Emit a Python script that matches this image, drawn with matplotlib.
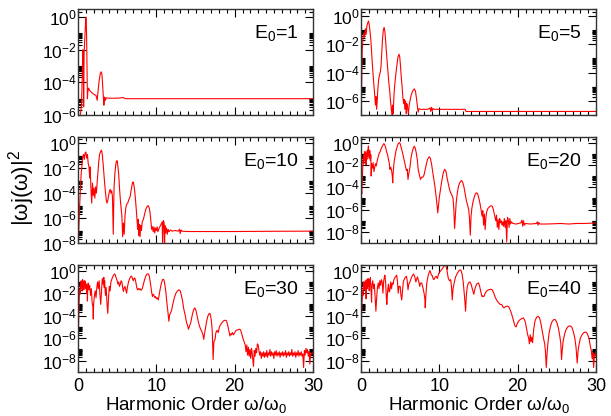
import matplotlib
matplotlib.use('Agg')
import matplotlib.pyplot as plt
import numpy as np
from matplotlib.ticker import FixedLocator, MultipleLocator, NullFormatter, FuncFormatter

plt.rcParams['font.family'] = ['Liberation Sans', 'DejaVu Sans']
plt.rcParams['mathtext.fontset'] = 'custom'
plt.rcParams['mathtext.rm'] = 'Liberation Sans'
plt.rcParams['mathtext.it'] = 'Liberation Sans:italic'
plt.rcParams['mathtext.bf'] = 'Liberation Sans:bold'

# spectra: harmonic order and log10 of |w j(w)|^2

e1_x = [0.0, 0.2, 0.35, 0.45, 0.55, 0.62, 0.68, 0.72, 0.78, 0.85, 0.92, 1.0, 1.05, 1.1, 1.15,
        1.2, 1.25, 1.35, 1.5, 1.8, 2.1, 2.3, 2.45, 2.55, 2.7, 2.85, 2.95, 3.05, 3.15, 3.25,
        3.3, 3.4, 3.5, 3.6, 4.0, 5.0, 5.8, 6.0, 30.0]
e1_log = [-6.5, -6.3, -5.8, -5.4, -3.5, -2.0, -2.1, -5.5, -2.2, -1.5, -0.8, 0.0, -0.3, -1.2, -3.0,
          -5.0, -4.6, -4.35, -4.5, -4.65, -4.75, -4.8, -5.1, -4.6, -3.9, -3.45, -3.35, -3.5, -4.2, -5.0,
          -5.4, -4.9, -5.1, -4.95, -4.97, -4.97, -4.93, -5.0, -5.0]

e5_x = [0.0, 0.08, 0.15, 0.25, 0.35, 0.45, 0.55, 0.65, 0.75, 0.85, 0.95, 1.05, 1.15, 1.25, 1.35,
        1.45, 1.55, 1.65, 1.75, 1.85, 1.92, 2.0, 2.08, 2.15, 2.25, 2.35, 2.45, 2.55, 2.65, 2.75,
        2.85, 2.95, 3.05, 3.15, 3.25, 3.35, 3.45, 3.55, 3.65, 3.75, 3.85, 3.95, 4.02, 4.1, 4.2,
        4.3, 4.45, 4.6, 4.72, 4.85, 4.95, 5.05, 5.15, 5.25, 5.35, 5.45, 5.52, 5.6, 5.7, 5.78,
        5.85, 5.95, 6.05, 6.15, 6.25, 6.4, 6.6, 6.8, 6.95, 7.1, 7.2, 7.3, 7.4, 7.6, 8.5,
        8.8, 8.9, 9.0, 9.1, 9.2, 9.4, 13.3, 13.4, 30.0]
e5_log = [-7.2, -5.0, -2.5, -1.6, -1.2, -1.5, -0.9, -1.3, -0.7, -0.5, -0.35, -0.6, -1.1, -1.6, -2.5,
          -3.4, -4.2, -4.9, -5.6, -6.3, -5.7, -6.6, -5.9, -5.2, -4.5, -4.2, -4.0, -3.6, -2.6, -1.6,
          -1.0, -0.8, -1.1, -1.8, -2.6, -3.3, -4.0, -4.7, -5.2, -5.9, -6.5, -7.0, -6.3, -6.9, -5.7,
          -4.9, -4.1, -3.4, -2.9, -2.7, -2.9, -3.6, -4.4, -5.0, -5.8, -6.2, -5.9, -6.6, -6.0, -6.9,
          -6.2, -6.5, -6.9, -6.3, -6.0, -5.6, -5.3, -5.15, -5.3, -5.9, -6.4, -6.8, -6.55, -6.6, -6.6,
          -6.5, -6.75, -6.45, -6.7, -6.55, -6.6, -6.6, -6.75, -6.75]

e10_x = [0.0, 0.1, 0.2, 0.3, 0.4, 0.5, 0.6, 0.7, 0.8, 0.9, 1.0, 1.1, 1.2, 1.3, 1.4,
         1.5, 1.55, 1.65, 1.75, 1.85, 1.95, 2.05, 2.15, 2.25, 2.35, 2.45, 2.55, 2.65, 2.75, 2.9,
         3.0, 3.1, 3.2, 3.3, 3.4, 3.5, 3.6, 3.7, 3.8, 3.9, 4.0, 4.1, 4.2, 4.3, 4.4,
         4.5, 4.6, 4.7, 4.8, 4.9, 5.0, 5.1, 5.2, 5.3, 5.4, 5.5, 5.6, 5.7, 5.8, 5.9,
         6.0, 6.1, 6.2, 6.35, 6.5, 6.65, 6.8, 6.95, 7.05, 7.15, 7.25, 7.35, 7.45, 7.55, 7.62,
         7.7, 7.78, 7.85, 7.92, 8.0, 8.1, 8.2, 8.35, 8.5, 8.65, 8.8, 8.95, 9.1, 9.2, 9.3,
         9.4, 9.5, 9.6, 9.7, 9.8, 9.9, 10.0, 10.1, 10.2, 10.3, 10.45, 10.6, 10.75, 10.8, 10.9,
         11.0, 11.05, 11.1, 11.2, 11.3, 11.4, 11.5, 11.6, 11.8, 12.0, 12.4, 12.8, 12.95, 13.05, 13.15,
         13.25, 14.0, 20.0, 25.0, 30.0]
e10_log = [-8.5, -7.0, -5.2, -3.8, -2.5, -1.8, -1.1, -0.9, -1.3, -0.8, -0.7, -1.2, -0.9, -1.6, -1.9,
           -2.8, -1.9, -3.6, -4.8, -3.2, -4.2, -3.6, -4.4, -3.5, -4.0, -3.1, -2.3, -1.5, -0.9, -0.65,
           -0.55, -0.9, -1.6, -2.4, -3.2, -3.9, -4.5, -4.8, -4.6, -4.2, -3.9, -3.7, -4.0, -3.8, -4.3,
           -7.3, -3.6, -2.5, -1.8, -1.45, -1.4, -1.9, -2.5, -3.6, -4.5, -5.2, -5.8, -7.5, -6.4, -7.3,
           -5.8, -5.2, -4.9, -4.8, -4.5, -4.3, -3.7, -3.2, -3.1, -3.4, -3.9, -4.6, -5.4, -6.3, -6.9,
           -6.1, -7.4, -6.5, -7.5, -6.6, -7.0, -6.3, -6.1, -5.7, -5.3, -5.1, -5.0, -5.2, -5.6, -6.2,
           -6.9, -6.7, -7.1, -6.7, -7.2, -6.8, -7.0, -6.7, -7.1, -6.9, -6.7, -6.5, -6.3, -8.1, -6.2,
           -6.4, -8.3, -6.6, -7.2, -6.8, -7.3, -6.9, -7.1, -6.95, -7.05, -7.0, -7.05, -6.9, -7.25, -6.95,
           -7.05, -7.08, -7.08, -7.06, -7.05]

e20_x = [0.0, 0.05, 0.1, 0.15, 0.2, 0.25, 0.3, 0.35, 0.4, 0.45, 0.5, 0.55, 0.6, 0.65, 0.7,
         0.75, 0.8, 0.85, 0.9, 0.95, 1.0, 1.05, 1.1, 1.15, 1.2, 1.25, 1.3, 1.35, 1.45, 1.55,
         1.65, 1.75, 1.85, 1.95, 2.05, 2.15, 2.3, 2.45, 2.6, 2.75, 2.9, 3.0, 3.1, 3.2, 3.3,
         3.4, 3.5, 3.6, 3.7, 3.8, 3.9, 4.0, 4.05, 4.1, 4.2, 4.3, 4.45, 4.6, 4.75, 4.9,
         5.0, 5.15, 5.3, 5.45, 5.55, 5.7, 5.8, 5.9, 6.0, 6.1, 6.25, 6.4, 6.55, 6.7, 6.8,
         6.9, 7.05, 7.2, 7.3, 7.45, 7.6, 7.75, 7.9, 8.05, 8.2, 8.35, 8.5, 8.7, 8.85, 9.0,
         9.15, 9.3, 9.45, 9.55, 9.65, 9.75, 9.8, 9.9, 10.0, 10.15, 10.3, 10.45, 10.6, 10.7, 10.85,
         11.0, 11.15, 11.3, 11.45, 11.6, 11.75, 11.85, 11.95, 12.05, 12.15, 12.3, 12.45, 12.6, 12.75, 12.85,
         13.0, 13.15, 13.3, 13.45, 13.6, 13.75, 13.85, 13.95, 14.05, 14.15, 14.3, 14.45, 14.6, 14.75, 14.9,
         15.05, 15.2, 15.35, 15.45, 15.55, 15.65, 15.75, 15.85, 15.95, 16.05, 16.2, 16.4, 16.6, 16.75, 16.9,
         17.05, 17.2, 17.3, 17.4, 17.5, 17.6, 17.7, 17.8, 17.9, 18.0, 18.1, 18.2, 18.3, 18.4, 18.5,
         18.6, 18.7, 18.8, 18.9, 19.0, 19.1, 19.2, 19.4, 19.8, 20.4, 20.55, 20.65, 20.75, 20.85, 21.0,
         21.6, 22.4, 22.5, 22.6, 22.7, 22.8, 23.5, 24.5, 25.5, 26.5, 27.5, 28.5, 29.5, 30.0]
e20_log = [-5.1, -4.3, -4.6, -3.5, -2.7, -1.8, -1.3, -1.9, -1.0, -1.6, -0.8, -1.4, -0.9, -2.0, -1.1,
           -1.5, -0.7, -1.2, -0.5, -0.3, -0.9, -1.4, -0.7, -0.8, -1.6, -1.1, -3.0, -1.9, -2.3, -1.8,
           -2.6, -2.2, -1.9, -2.1, -1.7, -1.4, -1.0, -0.8, -0.5, -0.3, -0.1, -0.15, -0.35, -0.6, -0.9,
           -1.1, -1.5, -1.8, -2.4, -2.2, -2.5, -3.0, -3.6, -2.8, -1.9, -1.4, -0.8, -0.4, -0.1, 0.0,
           -0.1, -0.5, -0.9, -1.4, -1.7, -2.2, -2.5, -2.4, -3.3, -2.8, -2.2, -1.3, -0.8, -0.45, -0.33,
           -0.45, -0.9, -1.6, -2.4, -2.9, -3.3, -3.1, -3.1, -2.9, -2.4, -1.9, -1.5, -1.27, -1.4, -1.9,
           -2.6, -3.3, -4.0, -4.6, -5.2, -5.9, -6.3, -5.6, -4.9, -4.2, -3.5, -2.9, -2.5, -2.4, -2.6,
           -3.2, -3.7, -4.2, -4.5, -4.7, -5.0, -6.0, -7.7, -6.5, -5.4, -4.5, -3.9, -3.6, -3.45, -3.4,
           -3.6, -4.0, -4.6, -5.2, -5.6, -6.0, -6.8, -8.3, -6.6, -5.9, -5.3, -4.9, -4.6, -4.5, -4.6,
           -5.0, -5.5, -6.1, -6.6, -6.1, -7.4, -6.4, -7.8, -6.7, -6.2, -5.9, -5.75, -5.66, -5.7, -6.0,
           -6.5, -7.0, -6.5, -7.6, -6.9, -7.8, -6.8, -7.2, -7.0, -7.4, -7.1, -7.5, -6.8, -7.6, -7.0,
           -8.9, -6.7, -6.9, -7.6, -6.8, -7.3, -7.1, -7.25, -7.3, -7.2, -6.95, -7.5, -7.0, -7.4, -7.25,
           -7.3, -7.25, -7.1, -7.4, -7.15, -7.3, -7.3, -7.28, -7.25, -7.3, -7.25, -7.25, -7.22, -7.2]

e30_x = [0.0, 0.05, 0.1, 0.15, 0.2, 0.25, 0.3, 0.35, 0.4, 0.45, 0.5, 0.55, 0.6, 0.65, 0.7,
         0.75, 0.8, 0.85, 0.9, 0.95, 1.0, 1.05, 1.1, 1.15, 1.2, 1.25, 1.3, 1.4, 1.5, 1.6,
         1.7, 1.8, 1.9, 1.95, 2.0, 2.1, 2.2, 2.3, 2.4, 2.5, 2.6, 2.7, 2.8, 2.9, 3.0,
         3.1, 3.2, 3.3, 3.35, 3.4, 3.5, 3.6, 3.7, 3.8, 3.9, 4.0, 4.1, 4.2, 4.35, 4.5,
         4.65, 4.75, 4.85, 5.0, 5.1, 5.2, 5.3, 5.4, 5.5, 5.6, 5.7, 5.8, 5.9, 6.0, 6.1,
         6.2, 6.3, 6.45, 6.6, 6.75, 6.85, 6.95, 7.05, 7.15, 7.25, 7.35, 7.5, 7.6, 7.7, 7.8,
         7.9, 8.05, 8.2, 8.35, 8.5, 8.65, 8.8, 9.0, 9.1, 9.2, 9.3, 9.4, 9.5, 9.6, 9.7,
         9.8, 9.9, 10.0, 10.1, 10.25, 10.35, 10.5, 10.65, 10.8, 10.9, 11.0, 11.1, 11.2, 11.3, 11.4,
         11.5, 11.6, 11.7, 11.8, 11.95, 12.1, 12.3, 12.5, 12.7, 12.9, 13.05, 13.2, 13.35, 13.5, 13.7,
         13.85, 14.0, 14.1, 14.25, 14.4, 14.6, 14.75, 14.9, 15.05, 15.2, 15.35, 15.5, 15.65, 15.8, 15.95,
         16.05, 16.15, 16.3, 16.45, 16.6, 16.75, 16.85, 16.95, 17.05, 17.15, 17.25, 17.35, 17.5, 17.6, 17.75,
         17.9, 18.05, 18.2, 18.4, 18.6, 18.8, 18.95, 19.1, 19.25, 19.4, 19.5, 19.6, 19.7, 19.85, 20.0,
         20.2, 20.4, 20.6, 20.75, 20.9, 21.05, 21.2, 21.35, 21.45, 21.55, 21.65, 21.75, 21.85, 21.95, 22.05,
         22.15, 22.25, 22.4, 22.5, 22.6, 22.7, 22.8, 22.9, 23.0, 23.1, 23.2, 23.3, 23.4, 23.5, 23.6,
         23.7, 23.8, 23.9, 24.0, 24.1, 24.2, 24.3, 24.4, 24.5, 24.6, 24.7, 24.8, 24.9, 25.0, 25.1,
         25.2, 25.3, 25.4, 25.5, 25.6, 25.7, 25.8, 25.9, 26.0, 26.1, 26.2, 26.3, 26.4, 26.5, 26.6,
         26.7, 26.8, 26.9, 27.0, 27.1, 27.2, 27.3, 27.4, 27.5, 27.6, 27.7, 27.8, 27.9, 28.0, 28.1,
         28.2, 28.3, 28.4, 28.5, 28.6, 28.7, 28.8, 28.9, 29.0, 29.1, 29.2, 29.3, 29.4, 29.5, 29.6,
         29.7, 29.8, 30.0]
e30_log = [-6.0, -5.5, -4.0, -2.6, -1.7, -2.1, -1.3, -1.6, -0.9, -1.5, -1.0, -1.8, -0.8, -1.3, -1.0,
           -1.7, -1.1, -0.9, -1.4, -1.0, -1.6, -1.2, -2.0, -1.3, -2.7, -1.5, -1.1, -1.7, -1.3, -2.2,
           -1.6, -2.8, -3.2, -4.3, -2.9, -2.2, -1.8, -2.4, -1.5, -1.0, -1.6, -0.9, -2.1, -3.0, -1.9,
           -0.7, -1.2, -0.6, -1.5, -0.9, -2.2, -1.5, -2.9, -3.8, -2.4, -1.4, -1.8, -1.0, -0.7, -0.45,
           -0.3, -0.35, -0.6, -0.9, -1.2, -1.0, -1.4, -1.2, -0.9, -1.0, -1.5, -1.85, -1.5, -1.4, -1.7,
           -2.0, -1.5, -1.0, -0.7, -0.5, -0.5, -0.7, -0.9, -0.7, -0.65, -0.9, -1.5, -1.7, -1.6, -1.7,
           -1.6, -1.75, -1.6, -1.2, -0.8, -0.5, -0.3, -0.3, -0.5, -0.9, -1.4, -1.9, -2.3, -2.1, -2.2,
           -2.4, -2.3, -2.5, -2.4, -2.6, -2.2, -1.6, -1.1, -0.8, -0.76, -0.9, -1.3, -1.8, -2.5, -3.2,
           -3.8, -4.5, -3.9, -3.8, -3.5, -3.0, -2.4, -2.0, -1.8, -1.7, -1.8, -2.2, -2.7, -3.4, -4.0,
           -4.6, -4.9, -5.2, -4.9, -4.6, -3.9, -3.5, -3.3, -3.5, -4.0, -4.5, -4.9, -5.2, -5.4, -5.7,
           -6.1, -5.6, -5.0, -4.4, -4.0, -3.8, -3.8, -4.1, -4.6, -5.5, -7.9, -6.3, -6.1, -5.5, -5.3,
           -5.5, -5.0, -4.8, -4.6, -4.45, -4.4, -4.45, -4.8, -5.3, -5.8, -5.6, -5.7, -5.5, -5.7, -5.5,
           -5.3, -5.25, -5.2, -5.25, -5.6, -6.0, -6.3, -6.6, -7.2, -6.6, -7.5, -6.8, -7.6, -7.0, -7.8,
           -6.9, -7.4, -8.5, -7.1, -7.6, -6.9, -7.3, -6.5, -6.6, -7.1, -7.5, -7.2, -7.8, -7.3, -7.6,
           -7.2, -7.7, -7.3, -7.6, -7.1, -7.7, -7.3, -7.5, -7.0, -7.6, -7.2, -7.5, -7.3, -7.8, -7.2,
           -7.5, -7.1, -7.6, -7.3, -7.5, -7.2, -7.7, -7.3, -7.5, -7.2, -7.6, -7.3, -7.5, -7.1, -7.7,
           -7.3, -7.5, -7.2, -7.6, -7.3, -7.5, -7.0, -7.6, -7.3, -7.5, -7.2, -7.7, -7.3, -7.5, -7.1,
           -7.6, -7.3, -7.5, -7.2, -7.6, -7.4, -8.6, -7.1, -7.5, -6.9, -7.3, -7.0, -7.6, -7.2, -8.3,
           -7.3, -7.4, -7.3]

e40_x = [0.0, 0.05, 0.1, 0.15, 0.2, 0.25, 0.3, 0.35, 0.4, 0.45, 0.5, 0.55, 0.6, 0.65, 0.7,
         0.75, 0.8, 0.85, 0.9, 0.95, 1.0, 1.05, 1.1, 1.15, 1.2, 1.25, 1.3, 1.35, 1.4, 1.5,
         1.6, 1.7, 1.8, 1.9, 2.0, 2.1, 2.2, 2.3, 2.4, 2.5, 2.6, 2.7, 2.8, 2.9, 3.0,
         3.05, 3.15, 3.25, 3.3, 3.4, 3.5, 3.6, 3.7, 3.8, 3.9, 4.0, 4.1, 4.2, 4.35, 4.55,
         4.65, 4.75, 4.85, 5.0, 5.1, 5.2, 5.3, 5.4, 5.5, 5.65, 5.8, 5.9, 6.0, 6.1, 6.25,
         6.4, 6.55, 6.7, 6.85, 7.0, 7.1, 7.2, 7.35, 7.5, 7.6, 7.75, 7.9, 8.05, 8.15, 8.2,
         8.3, 8.4, 8.55, 8.7, 8.8, 8.9, 9.0, 9.1, 9.2, 9.3, 9.45, 9.6, 9.75, 9.9, 10.05,
         10.2, 10.4, 10.55, 10.7, 10.8, 10.9, 11.0, 11.15, 11.3, 11.45, 11.55, 11.65, 11.75, 11.9, 12.05,
         12.25, 12.45, 12.6, 12.75, 12.9, 13.05, 13.15, 13.25, 13.35, 13.45, 13.55, 13.7, 13.9, 14.05, 14.25,
         14.4, 14.55, 14.75, 15.0, 15.15, 15.3, 15.45, 15.55, 15.7, 15.85, 16.05, 16.3, 16.55, 16.75, 16.95,
         17.1, 17.3, 17.5, 17.75, 17.95, 18.1, 18.25, 18.45, 18.65, 18.85, 19.05, 19.25, 19.45, 19.65, 19.8,
         19.95, 20.1, 20.3, 20.55, 20.75, 20.95, 21.1, 21.25, 21.4, 21.5, 21.6, 21.7, 21.8, 21.9, 22.05,
         22.2, 22.4, 22.6, 22.8, 23.0, 23.15, 23.3, 23.45, 23.55, 23.65, 23.75, 23.85, 24.0, 24.2, 24.4,
         24.6, 24.8, 25.0, 25.2, 25.35, 25.5, 25.6, 25.7, 25.8, 26.0, 26.2, 26.45, 26.7, 26.9, 27.1,
         27.3, 27.45, 27.6, 27.7, 27.8, 28.0, 28.2, 28.45, 28.7, 28.9, 29.1, 29.25, 29.4, 29.5, 29.6,
         29.7, 29.8, 29.9, 30.0]
e40_log = [-5.2, -4.6, -3.2, -2.6, -1.8, -2.2, -1.4, -1.0, -1.7, -1.1, -1.5, -0.9, -1.3, -2.5, -1.2,
           -0.8, -1.6, -1.0, -0.7, -1.4, -0.9, -1.8, -0.8, -1.2, -0.6, -1.5, -2.0, -2.8, -1.3, -0.9,
           -1.6, -1.2, -2.3, -3.6, -2.4, -1.5, -1.1, -1.6, -0.9, -1.3, -0.8, -1.0, -2.0, -0.9, -0.5,
           -0.4, -1.1, -2.6, -3.0, -1.8, -1.2, -1.9, -1.7, -1.0, -1.6, -1.1, -1.2, -0.8, -0.6, -0.4,
           -0.9, -2.0, -1.4, -1.4, -2.2, -2.6, -1.8, -1.0, -0.8, -0.6, -0.5, -0.9, -1.7, -1.2, -1.0,
           -0.7, -0.45, -0.3, -0.5, -1.0, -0.8, -0.55, -0.9, -1.4, -1.1, -1.1, -1.5, -2.0, -2.5, -3.3,
           -2.0, -1.1, -0.5, -0.15, 0.0, -0.2, -0.4, -0.45, -0.7, -0.8, -0.6, -0.5, -0.7, -0.3, -0.1,
           0.0, 0.2, 0.35, 0.45, 0.48, 0.3, -0.1, -0.7, -0.9, -0.8, -1.4, -2.6, -1.6, -1.1, -0.6,
           -0.3, -0.05, 0.05, 0.05, -0.3, -1.0, -1.8, -2.6, -3.6, -2.2, -1.5, -1.1, -1.0, -1.2, -1.7,
           -2.1, -1.6, -1.2, -1.1, -1.4, -1.9, -2.3, -2.25, -2.3, -2.0, -1.8, -1.7, -1.65, -1.7, -2.0,
           -2.3, -2.6, -2.8, -3.0, -3.0, -3.2, -3.3, -3.2, -3.15, -3.2, -3.5, -3.9, -4.4, -4.9, -5.0,
           -4.7, -4.5, -4.35, -4.25, -4.2, -4.5, -5.0, -5.6, -6.0, -6.5, -5.7, -6.3, -5.9, -6.4, -5.2,
           -4.5, -4.15, -4.05, -4.2, -4.8, -5.4, -6.0, -6.5, -7.2, -8.6, -7.4, -6.5, -5.6, -4.9, -4.5,
           -4.35, -4.35, -4.6, -5.1, -5.7, -6.4, -7.9, -7.0, -6.3, -5.6, -5.2, -4.95, -4.9, -5.0, -5.4,
           -6.0, -6.8, -8.2, -7.2, -6.7, -6.0, -5.7, -5.5, -5.45, -5.6, -6.0, -6.6, -7.1, -7.8, -7.3,
           -8.6, -7.4, -7.6, -7.2]

labels = ['E$_0$=1', 'E$_0$=5', 'E$_0$=10', 'E$_0$=20', 'E$_0$=30', 'E$_0$=40']
bottoms = [-6, -7, -8, -9, -9, -9]
xs = [e1_x, e5_x, e10_x, e20_x, e30_x, e40_x]
logs = [e1_log, e5_log, e10_log, e20_log, e30_log, e40_log]


def log_label(v, pos):
    return r'$\mathdefault{10^{%d}}$' % round(np.log10(v))


def setup_axis(ax, bottom, show_x):
    ax.set_yscale('log')
    ax.set_xlim(0, 30)
    ax.set_ylim(10.0 ** bottom, 10.0 ** 0.5)
    ax.xaxis.set_major_locator(MultipleLocator(10))
    ax.xaxis.set_minor_locator(MultipleLocator(1))
    ax.yaxis.set_major_locator(FixedLocator([10.0 ** k for k in range(-10, 1, 2)]))
    ax.yaxis.set_minor_locator(FixedLocator([j * 10.0 ** k for k in range(-10, 1, 2) for j in range(2, 11)]))
    ax.yaxis.set_major_formatter(FuncFormatter(log_label))
    ax.yaxis.set_minor_formatter(NullFormatter())
    ax.tick_params(which='both', direction='in', top=True, right=True, width=0.8, color='black')
    ax.tick_params(which='major', length=5.5)
    ax.tick_params(which='minor', length=3)
    ax.tick_params(axis='y', labelsize=12.5, pad=1)
    ax.tick_params(axis='x', labelsize=13, pad=4, labelbottom=show_x)
    for s in ax.spines.values():
        s.set_linewidth(1.0)
        s.set_color('#333333')


fig = plt.figure(figsize=(6.11, 4.16), dpi=100)

lefts = [78 / 611, 361 / 611]
width = 235 / 611
rows = [(1 - 115 / 416, 106 / 416), (1 - 243 / 416, 106 / 416), (1 - 372 / 416, 107 / 416)]

for i in range(6):
    r, c = divmod(i, 2)
    ax = fig.add_axes([lefts[c], rows[r][0], width, rows[r][1]])
    ax.plot(xs[i], 10.0 ** np.array(logs[i]), color='red', lw=0.8)
    setup_axis(ax, bottoms[i], r == 2)
    ax.text(0.94, 0.73, labels[i], transform=ax.transAxes, ha='right', va='baseline', fontsize=14)

for c in range(2):
    fig.text(lefts[c] + width / 2, 0.015, r'Harmonic Order ω/ω$_0$', ha='center', va='baseline', fontsize=13.5)

fig.text(22 / 611, 0.548, r'|ωj(ω)|$^2$', rotation=90, ha='center', va='center', fontsize=16)

fig.savefig('out.png', dpi=100)
